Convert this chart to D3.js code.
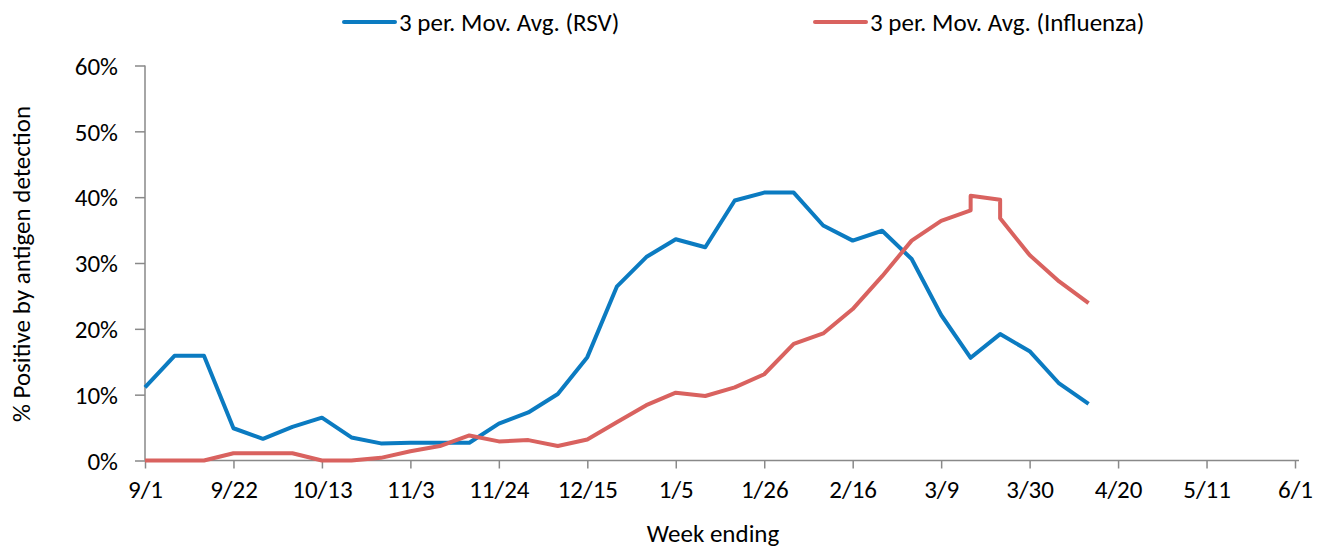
<!DOCTYPE html>
<html>
<head>
<meta charset="utf-8">
<script src="https://cdn.jsdelivr.net/npm/d3@7"></script>
<style>
  body { margin: 0; background: #fff; }
  text { font-family: Carlito, Lato, sans-serif; fill: #000; }
</style>
</head>
<body>
<div id="main"></div>
<script>
'use strict';

// week ending dates, 2013-14 season
var weeks = ['9/1','9/8','9/15','9/22','9/29','10/6','10/13','10/20','10/27','11/3','11/10',
  '11/17','11/24','12/1','12/8','12/15','12/22','12/29','1/5','1/12','1/19','1/26','2/2',
  '2/9','2/16','2/23','3/2','3/9','3/16','3/23','3/30','4/6','4/13'];

// 3 per. moving average, % positive
var rsv = [11.1, 15.9, 15.9, 4.9, 3.3, 5.1, 6.5, 3.5, 2.6, 2.7, 2.7, 2.7, 5.6, 7.3, 10.1,
  15.7, 26.4, 30.9, 33.6, 32.4, 39.5, 40.7, 40.7, 35.7, 33.4, 34.9, 30.6, 22.1, 15.6, 19.2,
  16.6, 11.7, 8.6];

// influenza has two readings on 3/16 and 3/23
var fluWeeks = ['9/1','9/8','9/15','9/22','9/29','10/6','10/13','10/20','10/27','11/3','11/10',
  '11/17','11/24','12/1','12/8','12/15','12/22','12/29','1/5','1/12','1/19','1/26','2/2',
  '2/9','2/16','2/23','3/2','3/9','3/16','3/16','3/23','3/23','3/30','4/6','4/13'];
var flu = [0, 0, 0, 1.1, 1.1, 1.1, 0, 0, 0.4, 1.4, 2.2, 3.8, 2.9, 3.1, 2.2, 3.2, 5.8, 8.4,
  10.3, 9.8, 11.1, 13.1, 17.7, 19.3, 23.0, 28.0, 33.4, 36.4, 38.0, 40.2, 39.6, 36.8, 31.2,
  27.2, 23.9];

var yTicks = [0, 10, 20, 30, 40, 50, 60];
var seriesNames = ['3 per. Mov. Avg. (RSV)', '3 per. Mov. Avg. (Influenza)'];
var colors = ['#0B7BC1', '#D9625F'];

var width = 1327, height = 552;
var M = { left: 145, right: 1295, top: 65.5, bottom: 460.5 };
var fontSize = '25px';

function parseWeek(s) {
  var p = s.split('/').map(Number);
  return new Date(p[0] >= 9 ? 2013 : 2014, p[0] - 1, p[1]);
}

var start = new Date(2013, 8, 1), end = new Date(2014, 5, 1);

var x = d3.scaleTime().domain([start, end]).range([M.left, M.right]);
var y = d3.scaleLinear().domain([0, 60]).range([M.bottom, M.top]);

var svg = d3.select('#main').append('svg')
  .attr('width', width).attr('height', height);

// y axis
var yAxis = svg.append('g')
  .attr('transform', 'translate(' + M.left + ',0)')
  .call(d3.axisLeft(y).tickValues(yTicks).tickSize(10).tickPadding(17)
    .tickFormat(function(d) { return d + '%'; }));
yAxis.select('.domain').remove();
yAxis.append('line').attr('x1', 0).attr('x2', 0).attr('y1', M.top).attr('y2', M.bottom);
yAxis.selectAll('text').style('font-size', fontSize).attr('dy', '0.35em');

// x axis, ticks every 3 weeks
var xTicks = d3.range(0, 274, 21).map(function(d) { return d3.timeDay.offset(start, d); });
var xAxis = svg.append('g')
  .attr('transform', 'translate(0,' + M.bottom + ')')
  .call(d3.axisBottom(x).tickValues(xTicks).tickSize(8).tickPadding(12)
    .tickFormat(d3.timeFormat('%-m/%-d')));
xAxis.select('.domain').remove();
xAxis.append('line').attr('x1', M.left).attr('x2', M.right + 4).attr('y1', 0).attr('y2', 0);
xAxis.selectAll('text').style('font-size', fontSize);

svg.selectAll('.tick line, g > line')
  .attr('stroke', '#898989').attr('stroke-width', 1.5);

// lines
var line = d3.line()
  .x(function(d) { return x(d[0]); })
  .y(function(d) { return y(d[1]); });

var series = [
  weeks.map(function(w, i) { return [parseWeek(w), rsv[i]]; }),
  fluWeeks.map(function(w, i) { return [parseWeek(w), flu[i]]; })
];

svg.selectAll('.series')
  .data(series).enter()
  .append('path')
  .attr('class', 'series')
  .attr('d', line)
  .attr('fill', 'none')
  .attr('stroke', function(d, i) { return colors[i]; })
  .attr('stroke-width', 4)
  .attr('stroke-linejoin', 'round');

// axis titles
svg.append('text')
  .attr('transform', 'translate(30,264) rotate(-90)')
  .attr('text-anchor', 'middle')
  .style('font-size', fontSize)
  .text('% Positive by antigen detection');

svg.append('text')
  .attr('x', 713).attr('y', 542)
  .attr('text-anchor', 'middle')
  .style('font-size', fontSize)
  .text('Week ending');

// legend
var legendX = [344, 815];
var legend = svg.selectAll('.legend')
  .data(seriesNames).enter()
  .append('g')
  .attr('class', 'legend')
  .attr('transform', function(d, i) { return 'translate(' + legendX[i] + ',22)'; });

legend.append('line')
  .attr('x1', 0).attr('x2', 51)
  .attr('stroke', function(d, i) { return colors[i]; })
  .attr('stroke-width', 4)
  .attr('stroke-linecap', 'round');

legend.append('text')
  .attr('x', 55).attr('dy', '0.35em')
  .style('font-size', fontSize)
  .text(function(d) { return d; });
</script>
</body>
</html>
